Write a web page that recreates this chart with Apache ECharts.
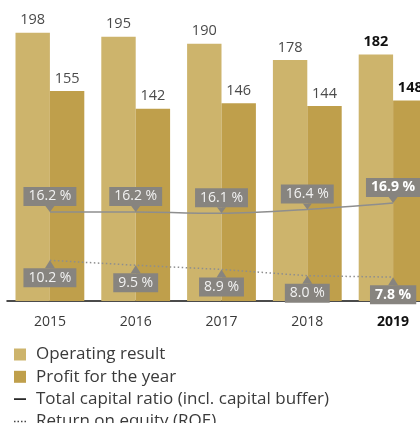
<!DOCTYPE html>
<html>
<head>
<meta charset="utf-8">
<script src="https://cdn.jsdelivr.net/npm/echarts@6/dist/echarts.min.js"></script>
<style>
  html, body { margin: 0; padding: 0; background: #fff; }
  #chart { width: 420px; height: 423px; }
</style>
</head>
<body>
<div id="chart"></div>
<script>
// Key figures 2015-2019
const years = ['2015', '2016', '2017', '2018', '2019'];
const operatingResult = [198, 195, 190, 178, 182];
const profitForYear = [155, 142, 146, 144, 148];
const totalCapitalRatio = [16.2, 16.2, 16.1, 16.4, 16.9];
const returnOnEquity = [10.2, 9.5, 8.9, 8.0, 7.8];

const FONT = '"Open Sans"';
const C_OPER = '#CDB46C';
const C_PROFIT = '#BF9F4B';
const C_BOX = '#87847F';
const C_LINE = '#8E8E8E';
const LAST = years.length - 1;

const ptrDown = 'path://M0,0L10,0L5,6Z';
const ptrUp = 'path://M5,0L10,8L0,8Z';

function barData(values) {
  return values.map((v, i) => i === LAST
    ? { value: v, label: { fontWeight: 'bold', color: '#111' } }
    : v);
}
function pctData(values) {
  return values.map((v, i) => i === LAST
    ? { value: v, label: { fontWeight: 'bold', color: '#fff' } }
    : v);
}

const pctLabel = (position) => ({
  show: true,
  position: position,
  distance: 0,
  formatter: (p) => p.value.toFixed(1) + ' %',
  fontFamily: FONT,
  fontSize: 14,
  lineHeight: 13,
  color: '#F2F2F2',
  backgroundColor: C_BOX,
  padding: [3, 5, 3, 5]
});

const barLabel = {
  show: true,
  position: 'top',
  distance: 5,
  fontFamily: FONT,
  fontSize: 14.5,
  color: '#4a4a4a'
};

const chart = echarts.init(document.getElementById('chart'), null, { renderer: 'canvas' });
chart.setOption({
  animation: false,
  textStyle: { fontFamily: FONT },
  grid: { left: 7, width: 429, top: 3, height: 298, containLabel: false, outerBoundsMode: 'none' },
  xAxis: {
    type: 'category',
    data: years,
    axisTick: { show: false },
    axisLine: { lineStyle: { color: '#111', width: 1.5 } },
    axisLabel: {
      margin: 14,
      fontFamily: FONT,
      fontSize: 14,
      color: '#3a3a3a',
      formatter: (v) => v === years[LAST] ? '{b|' + v + '}' : v,
      rich: { b: { fontFamily: FONT, fontSize: 14, fontWeight: 'bold', color: '#111' } }
    }
  },
  yAxis: [
    { type: 'value', min: 0, max: 220, show: false },
    { type: 'value', min: 9.35, max: 32.28, show: false },
    { type: 'value', min: 4.39, max: 46.96, show: false }
  ],
  legend: {
    orient: 'vertical',
    left: 9,
    top: 341,
    height: 140,
    itemWidth: 12,
    itemHeight: 12,
    itemGap: 5.3,
    selectedMode: false,
    textStyle: { fontFamily: FONT, fontSize: 17, lineHeight: 16, color: '#3a3a3a', padding: [0, 0, 0, 5] },
    data: [
      { name: 'Operating result', icon: 'rect' },
      { name: 'Profit for the year', icon: 'rect' },
      { name: 'Total capital ratio (incl. capital buffer)', icon: 'path://M0,0h12v1.6h-12z',
        itemStyle: { color: '#111', borderWidth: 0 } },
      { name: 'Return on equity (ROE)',
        icon: 'path://M0,0h1.5v1.5h-1.5zM3.5,0h1.5v1.5h-1.5zM7,0h1.5v1.5h-1.5zM10.5,0h1.5v1.5h-1.5z',
        itemStyle: { color: '#444', borderWidth: 0 } }
    ]
  },
  series: [
    {
      name: 'Operating result',
      type: 'bar',
      yAxisIndex: 0,
      barWidth: 34.4,
      barGap: '0%',
      itemStyle: { color: C_OPER },
      label: barLabel,
      data: barData(operatingResult)
    },
    {
      name: 'Profit for the year',
      type: 'bar',
      yAxisIndex: 0,
      barWidth: 34.4,
      barGap: '0%',
      itemStyle: { color: C_PROFIT },
      label: barLabel,
      data: barData(profitForYear)
    },
    {
      name: 'Total capital ratio (incl. capital buffer)',
      type: 'line',
      yAxisIndex: 1,
      smooth: 0.3,
      symbol: ptrDown,
      symbolSize: [9, 6],
      symbolOffset: [0, -3],
      symbolKeepAspect: false,
      itemStyle: { color: C_BOX },
      lineStyle: { color: C_LINE, width: 1.5 },
      label: pctLabel('top'),
      z: 3,
      data: pctData(totalCapitalRatio)
    },
    {
      name: 'Return on equity (ROE)',
      type: 'line',
      yAxisIndex: 2,
      symbol: ptrUp,
      symbolSize: [10, 8],
      symbolOffset: [0, 4],
      symbolKeepAspect: false,
      itemStyle: { color: C_BOX },
      lineStyle: { color: C_LINE, width: 1.5, type: [1.5, 2.5] },
      label: pctLabel('bottom'),
      z: 3,
      data: pctData(returnOnEquity)
    }
  ]
});
</script>
</body>
</html>
